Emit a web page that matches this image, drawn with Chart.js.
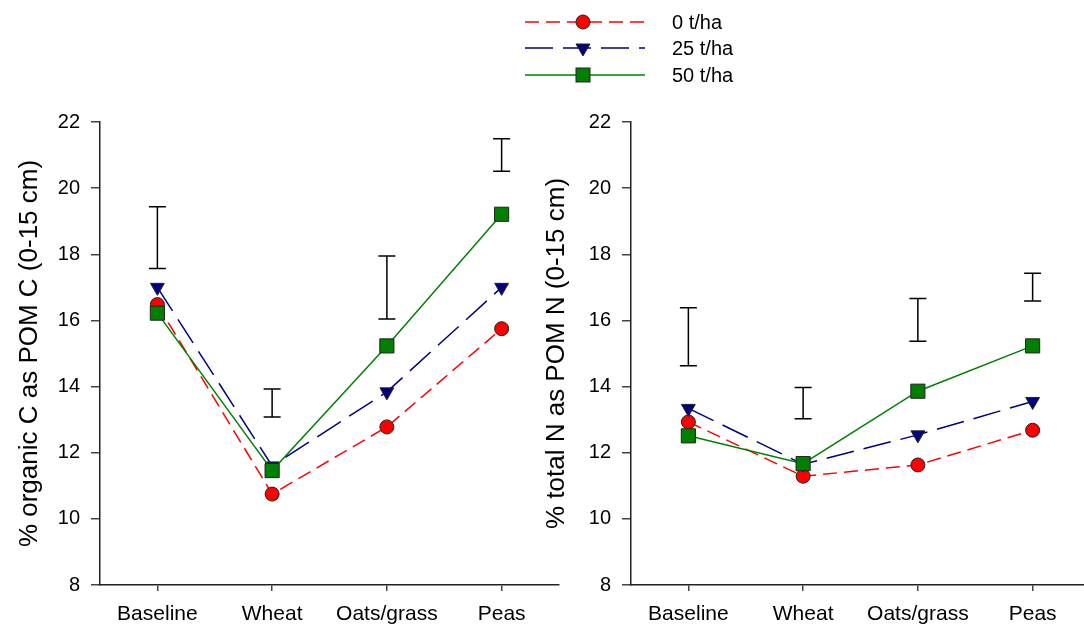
<!DOCTYPE html>
<html lang="en">
<head>
    <meta charset="UTF-8">
    <title>POM C and N</title>
    <script src="https://cdn.jsdelivr.net/npm/chart.js"></script>
    <style>
        html, body { margin: 0; padding: 0; width: 1084px; height: 626px; overflow: hidden; background: #fff; }
        canvas { position: absolute; top: 0; }
        #chartC { left: 0; }
        #chartN { left: 531px; }
        .legend-row { position: absolute; left: 520px; height: 24px; display: flex; align-items: center;
            font-family: 'Liberation Sans', Arial, sans-serif; font-size: 20px; color: #000; }
        .legend-row span { margin-left: 27px; }
    </style>
</head>
<body>
    <canvas id="chartC" width="570" height="626"></canvas>
    <canvas id="chartN" width="570" height="626"></canvas>
    <div id="legend"></div>
    <script>
        // categories and series
        const crops = ['Baseline', 'Wheat', 'Oats/grass', 'Peas'];
        const seriesNames = ['0 t/ha', '25 t/ha', '50 t/ha'];

        // % organic C as POM C
        const pomC0 = [16.48, 10.75, 12.78, 15.75];
        const pomC25 = [17.0, 11.6, 13.84, 17.0];
        const pomC50 = [16.22, 11.46, 15.23, 19.21];
        const errC_low = [17.57, 13.08, 16.04, 20.51];
        const errC_high = [19.44, 13.93, 17.95, 21.49];

        // % total N as POM N
        const pomN0 = [12.93, 11.29, 11.63, 12.68];
        const pomN25 = [13.34, 11.65, 12.54, 13.55];
        const pomN50 = [12.51, 11.67, 13.86, 15.23];
        const errN_low = [14.63, 13.03, 15.37, 16.59];
        const errN_high = [16.38, 13.97, 16.66, 17.43];

        const yTicks = [8, 10, 12, 14, 16, 18, 20, 22];

        const FONT = "'Liberation Sans', Arial, sans-serif";
        const styles = [
            { color: '#ff0000', dash: [14, 7], pointStyle: 'circle', radius: 7, rotation: 0 },
            { color: '#000080', dash: [28, 10], pointStyle: 'triangle', radius: 8, rotation: 180 },
            { color: '#008000', dash: [], pointStyle: 'rect', radius: 10, rotation: 0 }
        ];

        // draws the stand-alone I bars above each crop
        const errorBars = {
            id: 'errorBars',
            afterDatasetsDraw(chart, args, opts) {
                const ctx = chart.ctx;
                const xs = chart.scales.x, ys = chart.scales.y;
                ctx.save();
                ctx.strokeStyle = '#000';
                ctx.lineWidth = 1.5;
                opts.low.forEach((lo, i) => {
                    const px = xs.getPixelForValue(i);
                    const y1 = ys.getPixelForValue(lo), y2 = ys.getPixelForValue(opts.high[i]);
                    ctx.beginPath();
                    ctx.moveTo(px, y1); ctx.lineTo(px, y2);
                    ctx.moveTo(px - 8.5, y1); ctx.lineTo(px + 8.5, y1);
                    ctx.moveTo(px - 8.5, y2); ctx.lineTo(px + 8.5, y2);
                    ctx.stroke();
                });
                ctx.restore();
            }
        };

        function makeChart(id, seriesData, low, high, title, titlePad) {
            const datasets = seriesData.map((d, i) => ({
                label: seriesNames[i],
                data: d,
                borderColor: styles[i].color,
                backgroundColor: styles[i].color,
                borderWidth: 1.5,
                borderDash: styles[i].dash,
                pointStyle: styles[i].pointStyle,
                pointRadius: styles[i].radius,
                pointRotation: styles[i].rotation,
                pointBorderColor: '#222',
                pointBorderWidth: 1,
                tension: 0,
                order: 2 - i
            }));
            return new Chart(document.getElementById(id), {
                type: 'line',
                data: { labels: crops, datasets: datasets },
                plugins: [errorBars],
                options: {
                    responsive: false,
                    animation: false,
                    layout: { padding: { top: 122, right: 6, left: 0, bottom: 0 } },
                    plugins: {
                        legend: { display: false },
                        tooltip: { enabled: false },
                        errorBars: { low: low, high: high }
                    },
                    scales: {
                        x: {
                            offset: true,
                            afterFit: s => { s.height = 41; },
                            grid: { offset: false, drawOnChartArea: false, tickLength: 6, color: '#444', lineWidth: 1.5 },
                            border: { color: '#222', width: 1.5 },
                            ticks: { color: '#000', padding: 11, font: { family: FONT, size: 21 }, maxRotation: 0 }
                        },
                        y: {
                            min: 8, max: 22,
                            afterFit: s => { s.width = 100; },
                            afterBuildTicks: s => { s.ticks = yTicks.map(v => ({ value: v })); },
                            grid: { drawOnChartArea: false, tickLength: 9, color: '#444', lineWidth: 1.5 },
                            border: { color: '#222', width: 1.5 },
                            ticks: { color: '#000', padding: 11, font: { family: FONT, size: 20 } },
                            title: { display: true, text: title, color: '#000', padding: { top: titlePad, bottom: 0 },
                                font: { family: FONT, size: 26, weight: 'normal' } }
                        }
                    }
                }
            });
        }

        makeChart('chartC', [pomC0, pomC25, pomC50], errC_low, errC_high, '% organic C as POM C (0-15 cm)', 14);
        makeChart('chartN', [pomN0, pomN25, pomN50], errN_low, errN_high, '% total N as POM N (0-15 cm)', 10);

        // shared legend across the top
        const legendRows = [22, 48, 75];
        const legend = document.getElementById('legend');
        seriesNames.forEach((name, i) => {
            const st = styles[i];
            let marker;
            if (st.pointStyle === 'circle') {
                marker = '<circle cx="63" cy="12" r="7" fill="' + st.color + '" stroke="#222" stroke-width="1"/>';
            } else if (st.pointStyle === 'triangle') {
                marker = '<polygon points="56,8 70,8 63,20" fill="' + st.color + '" stroke="#222" stroke-width="1"/>';
            } else {
                marker = '<rect x="56" y="5" width="14" height="14" fill="' + st.color + '" stroke="#222" stroke-width="1"/>';
            }
            const row = document.createElement('div');
            row.className = 'legend-row';
            row.style.top = (legendRows[i] - 12) + 'px';
            row.innerHTML = '<svg width="125" height="24">' +
                '<line x1="5" y1="12" x2="125" y2="12" stroke="' + st.color + '" stroke-width="1.5" stroke-dasharray="' +
                (st.dash.length ? st.dash.join(',') : 'none') + '"/>' + marker + '</svg><span>' + name + '</span>';
            legend.appendChild(row);
        });
    </script>
</body>
</html>
